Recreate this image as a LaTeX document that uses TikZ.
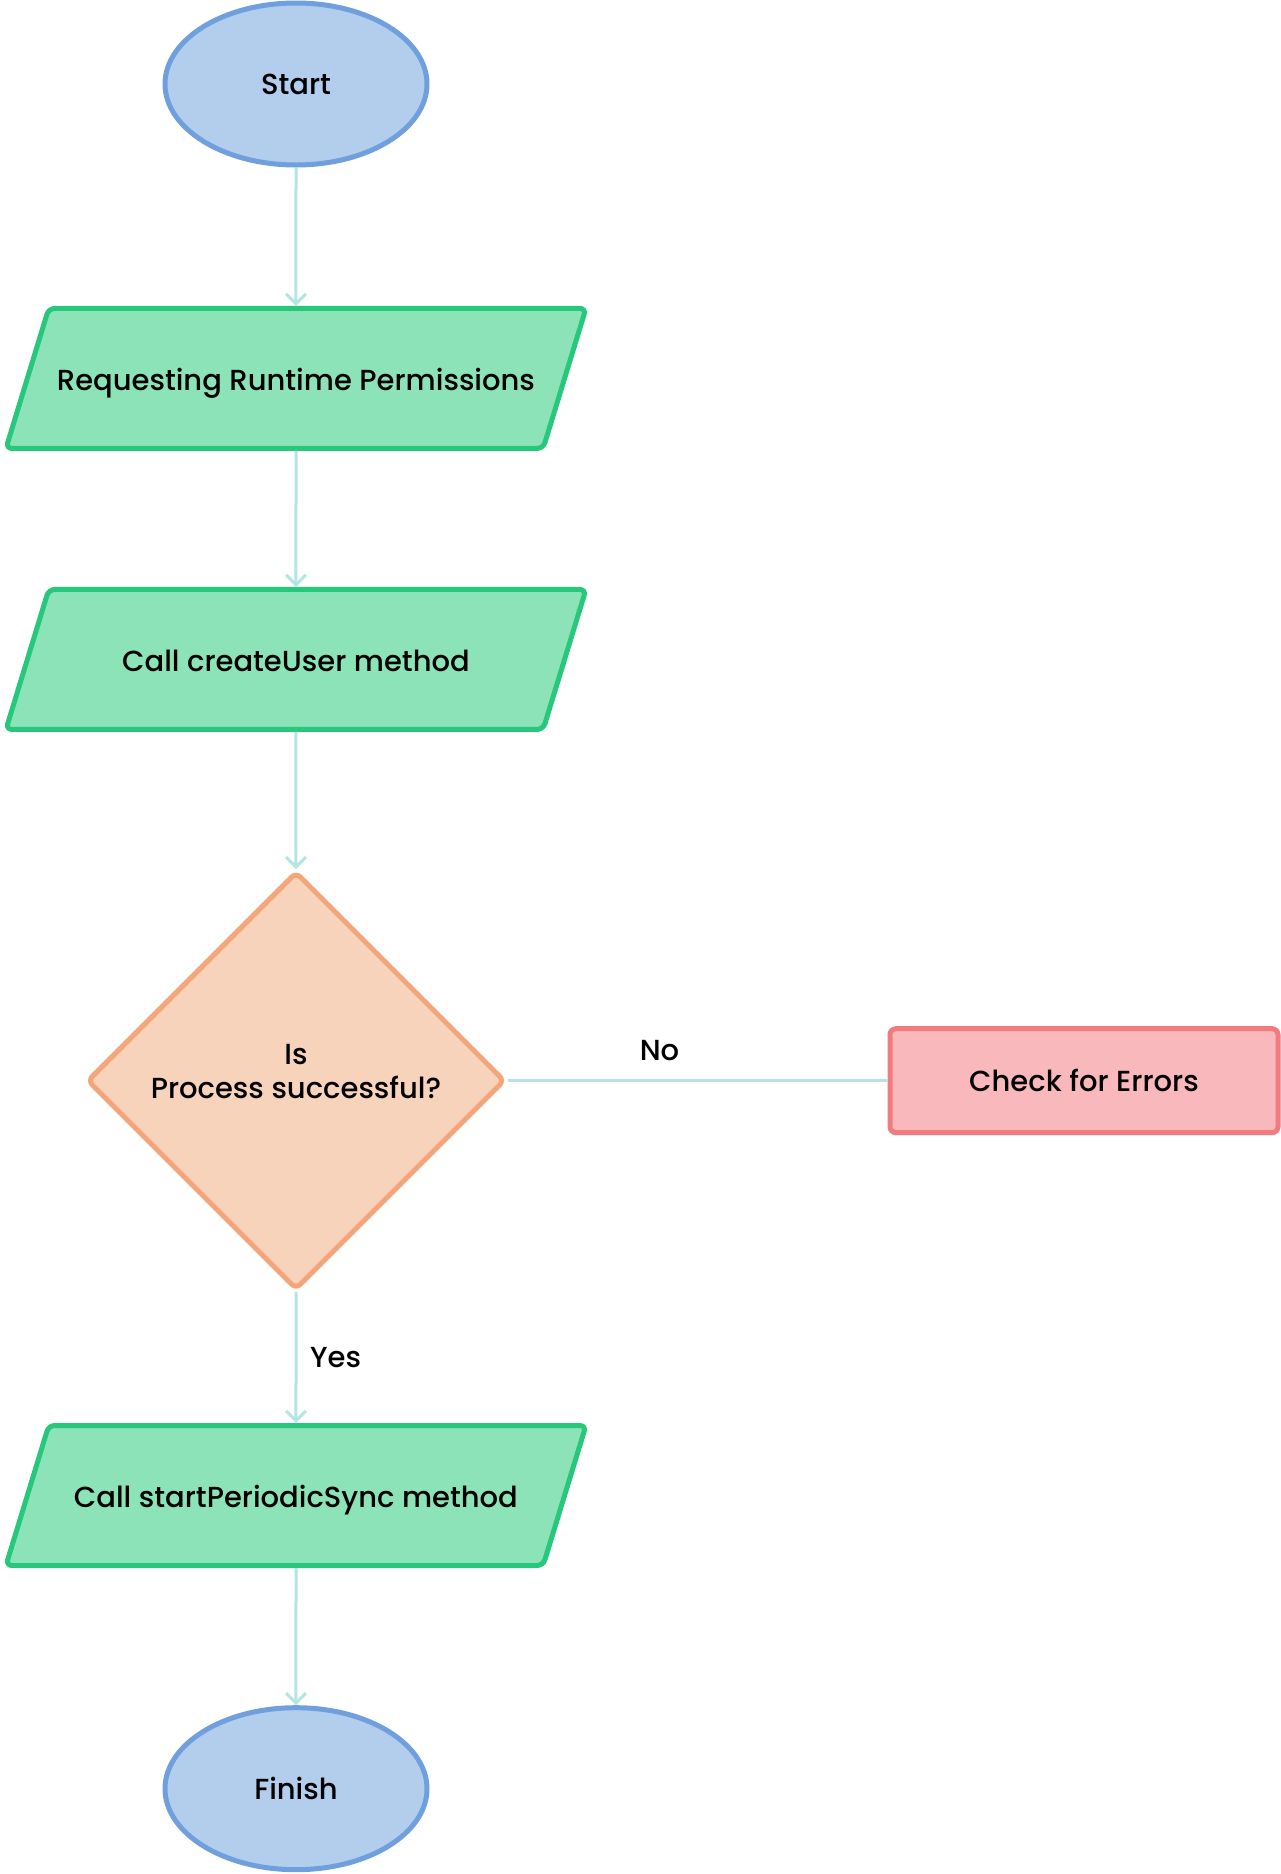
\documentclass[tikz,border=0pt]{standalone}
\usepackage{fontspec}
\setmainfont{Poppins Medium}
\usepackage{tikz}
\usetikzlibrary{arrows.meta,positioning,shapes.geometric}

\definecolor{termfill}{HTML}{B3CDEC}
\definecolor{termdraw}{HTML}{6F9FDC}
\definecolor{iofill}{HTML}{8DE3B8}
\definecolor{iodraw}{HTML}{28C87C}
\definecolor{askfill}{HTML}{F7D3BB}
\definecolor{askdraw}{HTML}{F2A67A}
\definecolor{errfill}{HTML}{F8B8BC}
\definecolor{errdraw}{HTML}{F27B80}
\definecolor{flow}{HTML}{B2E5E3}

\begin{document}
\begin{tikzpicture}[node distance=68.6pt,
                    every node/.style={font=\fontsize{14.5}{17}\selectfont},
                    term/.style={ellipse,draw=termdraw,fill=termfill,line width=2.5pt,
                                 minimum width=131pt,minimum height=81pt},
                    io/.style={trapezium,trapezium left angle=73,trapezium right angle=107,
                               trapezium stretches body,draw=iodraw,fill=iofill,line width=2.5pt,
                               rounded corners=3pt,text height=12.4pt,text depth=0.6pt,
                               inner ysep=28.5pt,minimum width=290pt},
                    ask/.style={diamond,draw=askdraw,fill=askfill,line width=2.5pt,
                                rounded corners=3pt,align=center,minimum width=209pt,minimum height=209pt},
                    err/.style={rectangle,draw=errdraw,fill=errfill,line width=2.5pt,
                                rounded corners=3pt,minimum width=194pt,minimum height=52pt},
                    flowline/.style={draw=flow,line width=1.5pt},
                    arr/.style={flowline,-{Straight Barb[length=5pt,width=10pt]}}]

  \useasboundingbox (0,0) rectangle (640pt,-937pt);

  \node[term] (start) at (148pt,-42pt) {Start};
  \node[io] (perm) [below=69.2pt of start] {Requesting Runtime Permissions};
  \node[io] (create) [below=68pt of perm] {Call createUser method};
  \node[ask] (check) [below=of create] {Is\\Process successful?\\[-8pt]};
  \node[err] (errors) [right=190pt of check] {Check for Errors};
  \node[io] (sync) [below=65.4pt of check] {Call startPeriodicSync method};
  \node[term] (finish) [below=of sync] {Finish};

  \path[arr]
    (start) edge (perm)
    (perm) edge (create)
    (create) edge (check)
    (check) edge node [right=3pt] {Yes} (sync)
    (sync) edge (finish);
  \path[flowline]
    (check) edge node [above=6pt,pos=0.4] {No} (errors);
\end{tikzpicture}
\end{document}
